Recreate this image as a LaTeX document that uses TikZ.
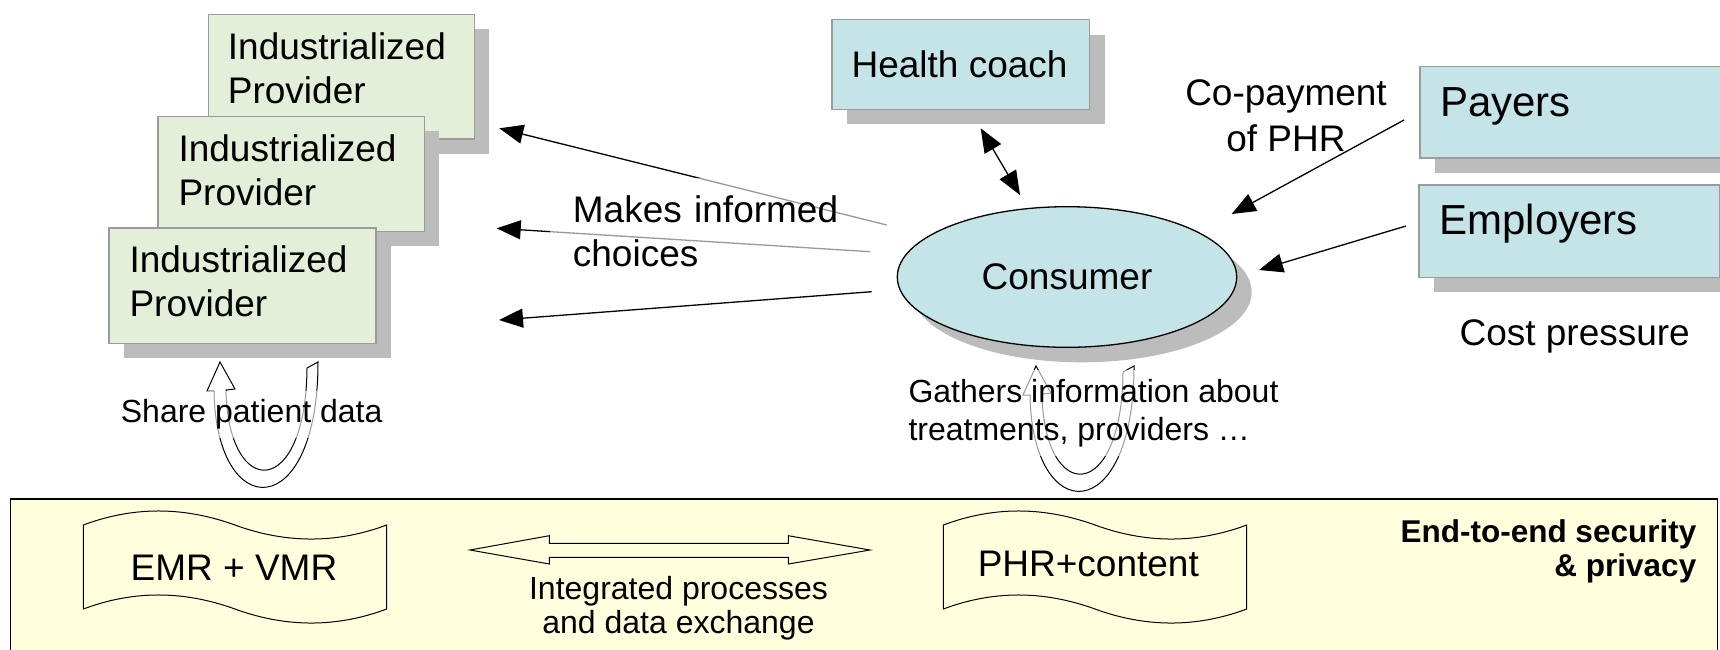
\documentclass[tikz,border=0pt]{standalone}
\usepackage{fontspec}
\setmainfont{Liberation Sans}
\usetikzlibrary{arrows.meta,shapes.geometric,shadows}
\definecolor{provgreen}{RGB}{227,239,217}
\definecolor{actblue}{RGB}{197,228,232}
\definecolor{shadowgray}{RGB}{188,188,188}
\definecolor{panelyellow}{RGB}{255,255,221}
\definecolor{boxborder}{RGB}{155,155,155}
\begin{document}
\begin{tikzpicture}[x=1pt,y=-1pt,
  shadowed/.style={drop shadow={shadow xshift=15pt,shadow yshift=-15pt,opacity=1,fill=shadowgray}},
  provbox/.style={shadowed,rectangle,draw=boxborder,line width=1.4pt,fill=provgreen,anchor=north west,inner sep=0pt},
  actbox/.style={shadowed,rectangle,draw=boxborder,line width=1.4pt,fill=actblue,anchor=north west,inner sep=0pt},
  bigtxt/.style={inner sep=0pt,align=left,font={\fontsize{37pt}{44pt}\selectfont}},
  hugetxt/.style={inner sep=0pt,font={\fontsize{42pt}{48pt}\selectfont}},
  smalltxt/.style={inner sep=0pt,font={\fontsize{32pt}{38pt}\selectfont}},
  faint/.style={fill=white,fill opacity=0.6,text opacity=1},
  bigtip/.tip={Triangle[length=24pt,width=19pt]},
  conn/.style={line width=1.3pt,-bigtip},
  wave/.style={draw=black,line width=1pt},
  uarrow/.style={draw=black,line width=1pt,fill=white}
]
\useasboundingbox (0,0) rectangle (1720,649);
\clip (0,0) rectangle (1720,649);
\fill[white] (0,0) rectangle (1720,649);

% bottom panel
\node[draw=black,line width=1.3pt,fill=panelyellow,anchor=north west,inner sep=0pt,
      minimum width=1707pt,minimum height=180pt] (panel) at (10,498.3) {};

% industrialized providers (multi-line nodes: base = last line)
\node[provbox,minimum width=266pt,minimum height=124.6pt] (ip1) at (207.7,13.7) {};
\node[bigtxt,anchor=base west] (ip1t) at (227.7,103.3) {Industrialized\\Provider};
\node[provbox,minimum width=266.4pt,minimum height=115pt] (ip2) at (157.3,115.7) {};
\node[bigtxt,anchor=base west] (ip2t) at (178.3,205.7) {Industrialized\\Provider};
\node[provbox,minimum width=267pt,minimum height=115.4pt] (ip3) at (108.3,227.3) {};
\node[bigtxt,anchor=base west] (ip3t) at (129.3,316.7) {Industrialized\\Provider};

% health coach, payers, employers
\node[actbox,minimum width=257.6pt,minimum height=89.7pt] (hc) at (831.4,19) {};
\node[bigtxt,anchor=base west] (hct) at (851.4,77.3) {Health coach};
\node[actbox,minimum width=340pt,minimum height=91.6pt] (pay) at (1419.3,65.7) {};
\node[hugetxt,anchor=base west] (payt) at (1440,116.7) {Payers};
\node[actbox,minimum width=300.7pt,minimum height=92.4pt] (emp) at (1418.3,184.3) {};
\node[hugetxt,anchor=base west] (empt) at (1439.3,234.3) {Employers};

% consumer
\node[shadowed,ellipse,draw=black,line width=1.3pt,fill=actblue,inner sep=0pt,
      minimum width=339.4pt,minimum height=140.6pt,
      font={\fontsize{37pt}{44pt}\selectfont}] (cons) at (1067,277) {Consumer};

% connector end points
\coordinate (hcA) at (980.7,128.3);
\coordinate (consA) at (1020,195);
\coordinate (payA) at (1404,120);
\coordinate (consB) at (1231.7,214);
\coordinate (empA) at (1406,226);
\coordinate (consC) at (1259,270);
\coordinate (consD) at (886.7,225);
\coordinate (ip1A) at (499.3,128.3);
\coordinate (consE) at (870,251.7);
\coordinate (ip2A) at (496.7,228.3);
\coordinate (consF) at (871.7,291.7);
\coordinate (ip3A) at (499,320);

\draw[line width=1.3pt,bigtip-bigtip] (hcA) -- (consA);
\draw[conn] (payA) -- (consB);
\draw[conn] (empA) -- (consC);
\draw[conn] (consD) -- (ip1A);
\draw[conn] (consE) -- (ip2A);
\draw[conn] (consF) -- (ip3A);

% U-turn arrows
\draw[uarrow] (220,362) -- (235,389) -- (226,390)
  .. controls (228,500.3) and (306,500.3) .. (307,368) -- (318,362)
  .. controls (318,524) and (216,524) .. (214,391) -- (207,391) -- cycle;
\draw[uarrow,shift={(816,4)}] (220,362) -- (235,389) -- (226,390)
  .. controls (228,500.3) and (306,500.3) .. (307,368) -- (318,362)
  .. controls (318,524) and (216,524) .. (214,391) -- (207,391) -- cycle;

% labels (a node with text width has its base on the first line)
\node[bigtxt,faint,inner xsep=22.7pt,inner ysep=17pt,text width=292pt,anchor=base west,
      font={\fontsize{37pt}{44.4pt}\selectfont}] (mic) at (550,222.3) {Makes informed\\choices};
\node[bigtxt,align=center,anchor=base,font={\fontsize{37pt}{46pt}\selectfont}] (copay) at (1286,151) {Co-payment\\of PHR};
\node[bigtxt,anchor=base] (cost) at (1574.7,345.5) {Cost pressure};
\node[smalltxt,faint,inner sep=9pt,anchor=base west] (share) at (111.7,422.7) {Share patient data};
\node[smalltxt,faint,inner sep=9pt,align=left,anchor=base west] (gath) at (899.3,440.5) {Gathers information about\\treatments, providers …};

% records
\draw[wave] (83.3,525) .. controls (133.3,506.3) and (183.3,506.3) .. (235,525)
  .. controls (286,543.7) and (336.7,543.7) .. (386.7,525) -- (386.7,609)
  .. controls (336.7,627.7) and (286,627.7) .. (235,609)
  .. controls (183.3,590.3) and (133.3,590.3) .. (83.3,609) -- cycle;
\node[bigtxt,anchor=base] (emr) at (234,580.7) {EMR + VMR};
\draw[wave,shift={(860,0)}] (83.3,525) .. controls (133.3,506.3) and (183.3,506.3) .. (235,525)
  .. controls (286,543.7) and (336.7,543.7) .. (386.7,525) -- (386.7,609)
  .. controls (336.7,627.7) and (286,627.7) .. (235,609)
  .. controls (183.3,590.3) and (133.3,590.3) .. (83.3,609) -- cycle;
\node[bigtxt,anchor=base] (phr) at (1088.3,576.7) {PHR+content};

% integration double arrow
\draw[line width=1pt] (470,550) -- (549.3,535.7) -- (549.3,543.3) -- (788.3,543.3)
  -- (788.3,535.7) -- (870,550) -- (788.3,564) -- (788.3,557.3) -- (549.3,557.3)
  -- (549.3,564) -- cycle;
\node[smalltxt,align=center,anchor=base,font={\fontsize{32pt}{34pt}\selectfont}] (integ) at (678.5,633.3) {Integrated processes\\and data exchange};
\node[inner sep=0pt,align=right,anchor=base east,font={\fontsize{31.5pt}{34pt}\selectfont\bfseries}] (sec) at (1696.5,576) {End-to-end security\\\& privacy};
\end{tikzpicture}
\end{document}
